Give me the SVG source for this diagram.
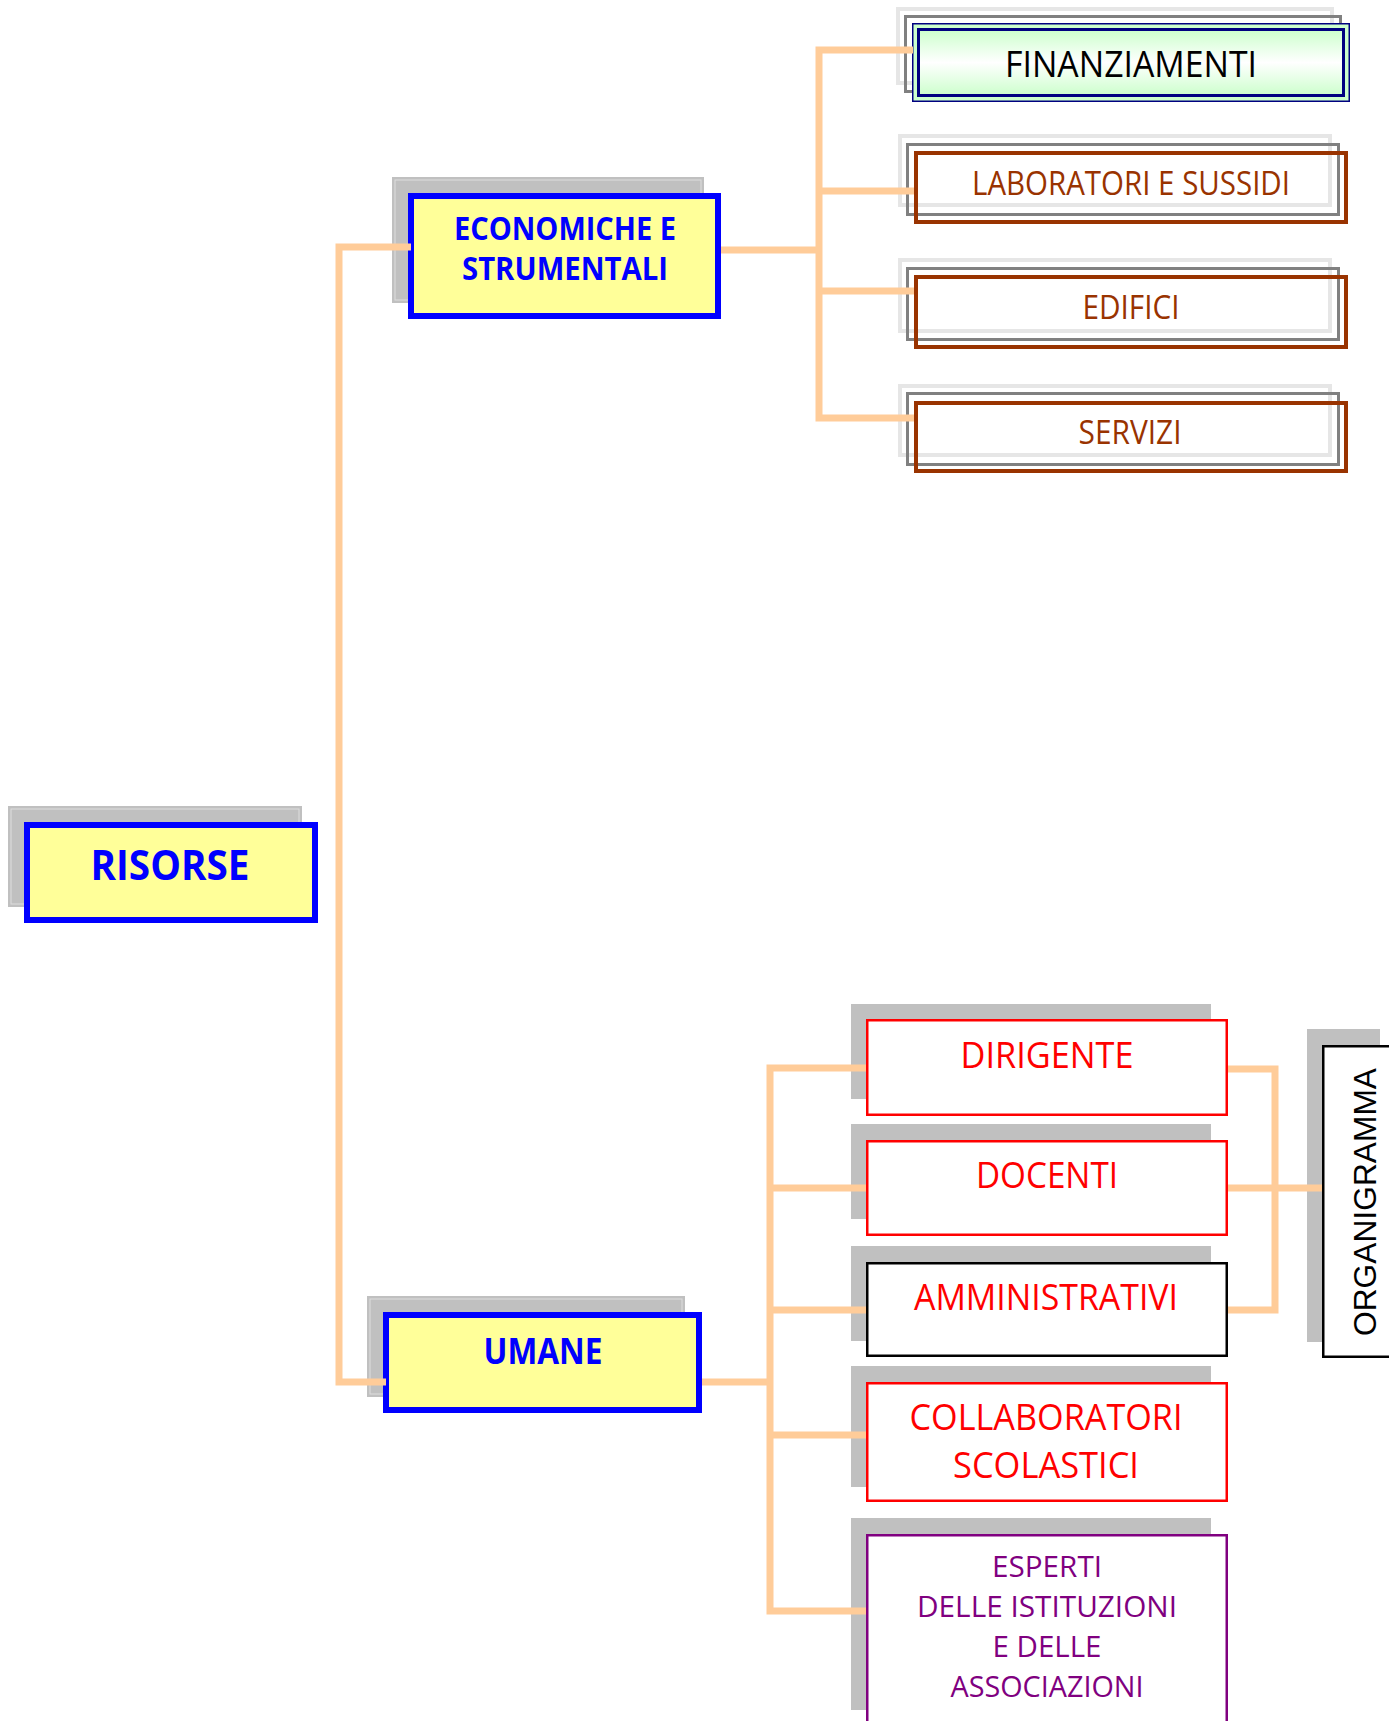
<svg xmlns="http://www.w3.org/2000/svg" width="1389" height="1721" viewBox="0 0 1389 1721">
<defs>
<linearGradient id="gGreen" x1="0" y1="0" x2="0" y2="1">
<stop offset="0" stop-color="#ccffcc"/>
<stop offset="0.5" stop-color="#ffffff"/>
<stop offset="1" stop-color="#ccffcc"/>
</linearGradient>
</defs>
<style>
.shadow{fill:#c0c0c0;stroke:none}
.shin{fill:none;stroke:#dedede;stroke-width:1}
.main{fill:#ffff99;stroke:#0000ff;stroke-width:6}
.lg{fill:none;stroke:#e6e6e6;stroke-width:4}
.dg{fill:none;stroke:#808080;stroke-width:3}
.br{fill:none;stroke:#993300;stroke-width:4}
.rb{fill:#ffffff;stroke:#ff0000;stroke-width:2.5}
.kb{fill:#ffffff;stroke:#000000;stroke-width:2.5}
.pb{fill:#ffffff;stroke:#800080;stroke-width:2.5}
.t{font-family:"Open Sans","Noto Sans","DejaVu Sans",sans-serif;text-anchor:middle}
.bold{font-weight:bold;fill:#0000ff}
.brt{fill:#993300;font-size:32px}
.red{fill:#ff0000;font-size:37px}
.pur{fill:#800080;font-size:29px}
.con{fill:none;stroke:#ffcc99;stroke-width:7;stroke-linejoin:miter}
</style>

<g id="risorse">
<rect class="shadow" x="8" y="806" width="294" height="101"/>
<rect class="shin" x="11" y="809" width="288" height="95"/>
<rect class="main" x="27" y="825" width="288" height="95"/>
<text class="t bold" x="170" y="880" font-size="42" textLength="159" lengthAdjust="spacingAndGlyphs">RISORSE</text>
</g>

<g id="economiche">
<rect class="shadow" x="392" y="177" width="312" height="126"/>
<rect class="shin" x="395" y="180" width="306" height="120"/>
<rect class="main" x="411" y="196" width="307" height="120"/>
<text class="t bold" x="565" y="240" font-size="32" textLength="222" lengthAdjust="spacingAndGlyphs">ECONOMICHE E</text>
<text class="t bold" x="565" y="280" font-size="32" textLength="206" lengthAdjust="spacingAndGlyphs">STRUMENTALI</text>
</g>

<g id="umane">
<rect class="shadow" x="367" y="1296" width="318" height="101"/>
<rect class="shin" x="370" y="1299" width="312" height="95"/>
<rect class="main" x="386" y="1315" width="313" height="95"/>
<text class="t bold" x="543" y="1364" font-size="36" textLength="119" lengthAdjust="spacingAndGlyphs">UMANE</text>
</g>

<g id="finanziamenti">
<rect class="lg" x="898" y="9" width="434" height="74"/>
<rect class="dg" x="905.5" y="16.5" width="435" height="75"/>
<rect x="912.75" y="23.75" width="436.5" height="77.5" fill="#ccffcc" stroke="#000080" stroke-width="1.5"/>
<rect x="918.5" y="29.5" width="425" height="66" fill="url(#gGreen)" stroke="#000080" stroke-width="3"/>
<text class="t" x="1131" y="77" font-size="37" fill="#000000" textLength="252" lengthAdjust="spacingAndGlyphs">FINANZIAMENTI</text>
</g>

<g id="laboratori">
<rect class="lg" x="900" y="136" width="430" height="69"/>
<rect class="dg" x="907.5" y="144.5" width="431" height="70"/>
<rect class="br" x="916" y="153" width="430" height="69"/>
<text class="t brt" x="1131" y="195" textLength="318" lengthAdjust="spacingAndGlyphs">LABORATORI E SUSSIDI</text>
</g>

<g id="edifici">
<rect class="lg" x="900" y="260" width="430" height="71"/>
<rect class="dg" x="907.5" y="268.5" width="431" height="71"/>
<rect class="br" x="916" y="277" width="430" height="70"/>
<text class="t brt" x="1131" y="319" textLength="97" lengthAdjust="spacingAndGlyphs">EDIFICI</text>
</g>

<g id="servizi">
<rect class="lg" x="900" y="386" width="430" height="69"/>
<rect class="dg" x="907.5" y="393.5" width="431" height="71"/>
<rect class="br" x="916" y="403" width="430" height="68"/>
<text class="t brt" x="1130" y="444" textLength="103" lengthAdjust="spacingAndGlyphs">SERVIZI</text>
</g>

<g id="dirigente">
<rect class="shadow" x="851" y="1004" width="360" height="95"/>
<rect class="rb" x="867.25" y="1020.25" width="359.5" height="94.5"/>
<text class="t red" x="1047" y="1068" textLength="173" lengthAdjust="spacingAndGlyphs">DIRIGENTE</text>
</g>

<g id="docenti">
<rect class="shadow" x="851" y="1124" width="360" height="95"/>
<rect class="rb" x="867.25" y="1141.25" width="359.5" height="93.5"/>
<text class="t red" x="1047" y="1188" textLength="142" lengthAdjust="spacingAndGlyphs">DOCENTI</text>
</g>

<g id="amministrativi">
<rect class="shadow" x="851" y="1246" width="360" height="95"/>
<rect class="kb" x="867.25" y="1263.25" width="359.5" height="92.5"/>
<text class="t red" x="1046" y="1310" textLength="264" lengthAdjust="spacingAndGlyphs">AMMINISTRATIVI</text>
</g>

<g id="collaboratori">
<rect class="shadow" x="851" y="1366" width="360" height="121"/>
<rect class="rb" x="867.25" y="1383.25" width="359.5" height="117.5"/>
<text class="t red" x="1046" y="1430" textLength="273" lengthAdjust="spacingAndGlyphs">COLLABORATORI</text>
<text class="t red" x="1046" y="1478" textLength="186" lengthAdjust="spacingAndGlyphs">SCOLASTICI</text>
</g>

<g id="esperti">
<rect class="shadow" x="851" y="1518" width="360" height="192"/>
<rect class="pb" x="867.25" y="1535.25" width="359.5" height="192"/>
<text class="t pur" x="1047" y="1577" textLength="110" lengthAdjust="spacingAndGlyphs">ESPERTI</text>
<text class="t pur" x="1047" y="1617" textLength="260" lengthAdjust="spacingAndGlyphs">DELLE ISTITUZIONI</text>
<text class="t pur" x="1047" y="1657" textLength="109" lengthAdjust="spacingAndGlyphs">E DELLE</text>
<text class="t pur" x="1047" y="1697" textLength="193" lengthAdjust="spacingAndGlyphs">ASSOCIAZIONI</text>
</g>

<g id="organigramma">
<rect class="shadow" x="1307" y="1029" width="73" height="313"/>
<rect class="kb" x="1323.25" y="1046.25" width="90" height="310.5"/>
<text transform="translate(1376,1202) rotate(-90)" font-family="'Liberation Sans',Arial,sans-serif" font-size="32" fill="#000000" text-anchor="middle" textLength="268" lengthAdjust="spacingAndGlyphs">ORGANIGRAMMA</text>
</g>

<g id="connectors">
<path class="con" d="M411,247 H339 V1382 H386"/>
<path class="con" d="M913,50 H819 V418 H914"/>
<path class="con" d="M721,250 H819"/>
<path class="con" d="M819,191 H914"/>
<path class="con" d="M819,291 H914"/>
<path class="con" d="M866,1068 H770 V1611 H866"/>
<path class="con" d="M702,1382 H770"/>
<path class="con" d="M770,1188 H866"/>
<path class="con" d="M770,1310 H866"/>
<path class="con" d="M770,1435 H866"/>
<path class="con" d="M1228,1069 H1275 V1310 H1228"/>
<path class="con" d="M1228,1188 H1322"/>
</g>
</svg>
